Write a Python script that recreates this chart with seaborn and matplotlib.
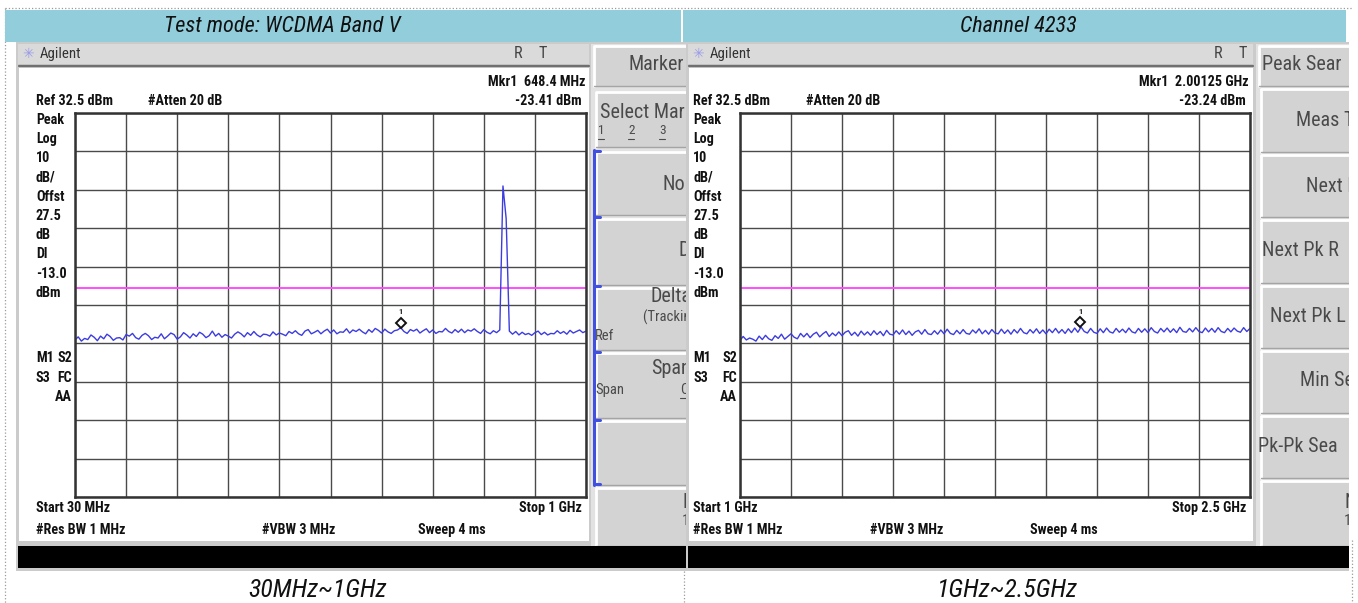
import numpy as np
import pandas as pd
import seaborn as sns
import matplotlib.pyplot as plt
import matplotlib.transforms as mtransforms
from matplotlib import font_manager
from matplotlib.patches import Rectangle

left_span_mhz = [30, 1000]
right_span_mhz = [1000, 2500]
ref_level_dbm = 32.5
db_per_div = 10
display_line_dbm = -13.0

# trace levels (dBm), evenly spaced sweep points across each span
left_levels_dbm = [
    -26.6, -25.8, -26.9, -26.2, -26.5, -25.3, -25.9, -26.8, -25.6, -26.3,
    -25.1, -25.7, -26.7, -26.1, -26.0, -26.6, -25.2, -25.6, -24.9, -26.0, -26.4,
    -25.4, -24.9, -25.5, -26.5, -25.9, -26.1, -25.0, -26.3, -25.6, -24.8,
    -25.2, -26.4, -25.8, -24.7, -25.3, -26.1, -25.0, -25.7, -24.6, -25.1,
    -26.0, -25.5, -24.3, -25.6, -24.9, -25.9, -25.2, -25.6, -26.1, -25.1,
    -24.5, -25.0, -25.8, -24.7, -25.4, -24.4, -25.3, -25.8, -25.1, -25.2,
    -25.6, -24.5, -25.3, -24.8, -25.1, -25.5, -24.4, -24.9, -24.2, -25.0,
    -25.4, -24.3, -23.9, -25.0, -24.6, -24.1, -25.0, -24.3, -23.8, -24.8,
    -24.0, -25.0, -24.5, -24.6, -23.7, -24.8, -24.0, -24.4, -23.8, -24.5,
    -25.0, -23.9, -24.6, -23.6, -24.1, -24.8, -23.8, -24.5, -24.9, -24.2,
    -24.0, -23.41, -24.4, -24.9, -23.9, -24.3, -23.8, -24.8, -24.2, -23.7,
    -24.7, -24.0, -24.9, -24.4, -24.5, -23.6, -24.4, -24.8, -23.9, -24.6,
    -23.8, -24.7, -24.0, -24.3, -23.7, -24.4, -24.9, -23.9, -24.6, -25.0,
    -24.2, -24.7, -24.0,
    13.5, 5.0,
    -24.3, -25.1, -24.4, -25.3, -24.6, -25.2, -24.9, -25.4, -24.7, -24.3,
    -25.2, -24.6, -25.3, -24.9, -25.0, -24.2, -24.9, -24.4, -25.1, -24.1,
    -24.8, -24.4, -24.0, -24.7, -24.3,
]
right_levels_dbm = [
    -26.7, -25.7, -26.6, -26.1, -26.4, -26.9, -25.6, -26.5, -25.4, -26.3, -26.7,
    -25.5, -26.2, -25.1, -26.4, -25.7, -25.0, -25.9, -26.3, -24.9, -25.8,
    -24.9, -26.0, -25.1, -24.6, -25.8, -25.0, -24.4, -25.7, -24.8, -25.5,
    -24.5, -25.5, -24.6, -24.2, -25.4, -24.6, -25.6, -24.3, -25.3, -24.5,
    -25.4, -24.2, -25.2, -24.4, -25.5, -24.1, -25.1, -25.3, -24.2, -25.1,
    -24.0, -25.2, -24.3, -25.4, -24.5, -24.1, -25.1, -23.9, -25.0, -25.2,
    -24.2, -25.1, -24.0, -25.0, -23.8, -24.9, -25.2, -24.1, -25.0, -23.9,
    -24.9, -25.1, -24.0, -24.8, -23.7, -25.0, -24.1, -25.1, -23.9, -24.8,
    -25.0, -23.8, -24.9, -24.0, -25.1, -23.9, -24.8, -23.6, -24.7, -25.0,
    -23.9, -24.8, -23.7, -24.9, -24.0, -25.0, -23.8, -24.7, -23.6, -24.8,
    -23.9, -24.9, -23.7, -24.7, -23.5, -24.6, -23.24, -24.4, -24.8, -23.6,
    -24.6, -24.9, -23.7, -24.7, -23.5, -24.5, -24.8, -23.6, -24.6, -23.8,
    -24.7, -23.5, -24.5, -24.8, -23.6, -24.6, -23.7, -24.7, -23.4, -24.4,
    -24.8, -23.6, -24.5, -23.5, -24.6, -23.7, -24.7, -23.3, -24.4, -24.6,
    -23.6, -24.5, -23.4, -24.4, -24.7, -23.5, -24.5, -23.6, -24.6, -23.4,
    -24.4, -24.7, -23.6, -24.5, -23.5, -24.3, -24.6, -23.4, -24.4, -23.6,
]

left_marker = [648.4, -23.41]
right_marker = [2001.25, -23.24]

header_titles = ["Test mode: WCDMA Band V", "Channel 4233"]
range_titles = ["30MHz~1GHz", "1GHz~2.5GHz"]
status_labels = ["Peak", "Log", "10", "dB/", "Offst", "27.5", "dB", "Dl", "-13.0", "dBm"]

sns.set_theme(style="white")
names = {f.name for f in font_manager.fontManager.ttflist}
narrow_choices = ["Liberation Sans Narrow", "Roboto Condensed", "Open Sans Condensed"]
NARROW = next((n for n in narrow_choices if n in names), None)
if NARROW:
    plt.rcParams["font.family"] = [NARROW, "DejaVu Sans"]
    DISP, SOFT, HEAD, FOOT = 10.2, 14.5, 16, 18.5
else:
    plt.rcParams["font.family"] = ["Liberation Sans", "DejaVu Sans"]
    DISP, SOFT, HEAD, FOOT = 9.3, 12.5, 14, 16

W, H = 1358, 603
fig = plt.figure(figsize=(W / 100, H / 100), dpi=100)
fig.patch.set_facecolor("white")
bg = fig.add_axes([0, 0, 1, 1])
bg.set_xlim(0, W)
bg.set_ylim(H, 0)
bg.axis("off")

TRACE = "#3c3ce0"
PINK = "#ff4dff"


def box(ax, x0, y0, x1, y1, fc, ec="none", lw=0, z=1):
    ax.add_patch(Rectangle((x0, y0), x1 - x0, y1 - y0, facecolor=fc,
                           edgecolor=ec, linewidth=lw, zorder=z))


def px_axes(x0, y0, x1, y1):
    return fig.add_axes([x0 / W, 1 - y1 / H, (x1 - x0) / W, (y1 - y0) / H])


def txt(ax, x, y, s, size=None, weight="bold", ha="left", color="#111111", **kw):
    ax.text(x, y, s, fontsize=size or DISP, fontweight=weight, ha=ha, va="center",
            color=color, zorder=5, **kw)


def button(ax, x0, y0, x1, y1):
    box(ax, x0, y0, x1, y1, "#d3d3d3", z=1)
    ax.plot([x0, x0, x1], [y1, y0, y0], color="white", lw=2, zorder=2)
    ax.plot([x0, x1, x1], [y1, y1, y0], color="#a4a4a4", lw=1, zorder=2)


def draw_screen(fx0, fx1, wx1, gx0, gx1, tx0, span, levels, marker, readout,
                atten_x, vbw_x, sweep_x, rt_x):
    # instrument frame, title bar, white display, black status bar
    box(bg, fx0, 42, fx1, 571, "#cbcbcb")
    box(bg, fx0 + 2, 44, wx1, 64, "#dadada")
    bg.plot([fx0 + 3, wx1], [66, 66], color="#707070", lw=1.6, zorder=2)
    box(bg, fx0 + 3, 68, wx1, 541, "white", z=2)
    box(bg, fx0 + 2, 546, fx1, 568, "black", z=2)

    bg.text(fx0 + 12, 54, "\u2733", fontsize=10, color="#9a9ae8", ha="center",
            va="center", family="DejaVu Sans", zorder=5)
    txt(bg, fx0 + 24, 54, "Agilent", size=DISP + 0.5, weight="normal", color="#333333")
    txt(bg, rt_x, 54, "R", size=DISP + 1.5, weight="normal", color="#444444", ha="center")
    txt(bg, rt_x + 25, 54, "T", size=DISP + 1.5, weight="normal", color="#444444", ha="center")

    txt(bg, gx1 - 1, 82, readout[0], ha="right")
    txt(bg, tx0, 101, "Ref 32.5 dBm")
    txt(bg, atten_x, 101, "#Atten 20 dB")
    txt(bg, gx1 - 4, 101, readout[1], ha="right")
    for i, s in enumerate(status_labels):
        txt(bg, tx0, 120 + i * 19.2, s)
    txt(bg, tx0, 358, "M1")
    txt(bg, gx0 - 3, 358, "S2", ha="right")
    txt(bg, tx0, 378, "S3")
    txt(bg, gx0 - 3, 378, "FC", ha="right")
    txt(bg, gx0 - 3, 397, "AA", ha="right")
    txt(bg, tx0, 508, readout[2])
    txt(bg, gx1 - 4, 508, readout[3], ha="right")
    txt(bg, tx0, 530, "#Res BW 1 MHz")
    txt(bg, vbw_x, 530, "#VBW 3 MHz")
    txt(bg, sweep_x, 530, "Sweep 4 ms")

    # the graticule and the trace
    ax = px_axes(gx0, 113, gx1, 497)
    ax.set_zorder(3)
    freqs = np.linspace(span[0], span[1], len(levels))
    df = pd.DataFrame({"freq": freqs, "level": levels})
    sns.lineplot(data=df, x="freq", y="level", ax=ax, color=TRACE, lw=1.0,
                 sort=False, estimator=None)
    ax.axhline(display_line_dbm, color=PINK, lw=1.4, zorder=1)
    ax.set_xlim(span[0], span[1])
    ax.set_ylim(ref_level_dbm - 10 * db_per_div, ref_level_dbm)
    ax.set_xticks(np.linspace(span[0], span[1], 11))
    ax.set_yticks(np.linspace(ref_level_dbm - 10 * db_per_div, ref_level_dbm, 11))
    ax.grid(True, color="#4a4a4a", lw=1.0)
    ax.tick_params(length=0, labelbottom=False, labelleft=False)
    ax.set_xlabel("")
    ax.set_ylabel("")
    ax.set_facecolor("white")
    for sp in ax.spines.values():
        sp.set_visible(True)
        sp.set_color("#333333")
        sp.set_linewidth(1.8)
    up = mtransforms.offset_copy(ax.transData, fig=fig, x=0, y=5, units="dots")
    ax.plot(marker[0], marker[1], marker="D", ms=5.5, mfc="white", mec="#111111",
            mew=1.4, transform=up, zorder=4)
    ax.annotate("1", (marker[0], marker[1]), xytext=(0, 16), textcoords="offset pixels",
                ha="center", va="center", fontsize=6, fontweight="bold", color="#222222")


def softkeys(sx0, sx1, title, title_x, keys, extra):
    sk = px_axes(sx0, 44, sx1, 546)
    sk.set_xlim(sx0, sx1)
    sk.set_ylim(546, 44)
    sk.axis("off")
    sk.set_zorder(4)
    box(sk, sx0, 44, sx1, 546, "#e2e2e2", z=0)
    button(sk, sx0 + 3, 46, sx1 + 2, 86)
    sk.text(title_x, 64, title, fontsize=SOFT, color="#4a4a4a", va="center",
            clip_on=True, zorder=5)
    for (y0, y1, label, lx, ly) in keys:
        button(sk, sx0 + 5, y0, sx1 + 2, y1)
        if label:
            sk.text(lx, ly, label, fontsize=SOFT, color="#4a4a4a", va="center",
                    clip_on=True, zorder=5)
    for (x, y, s, size, ul) in extra:
        sk.text(x, y, s, fontsize=size, color="#4a4a4a", va="center",
                clip_on=True, zorder=5)
        if ul:
            sk.plot([x, x + 6], [y + 8, y + 8], color="#4a4a4a", lw=0.8, zorder=5)
    return sk


# Word table borders (dotted)
dots = dict(color="#9a9a9a", lw=0.9, ls=":", zorder=0)
bg.plot([5, 5], [8, 603], **dots)
bg.plot([5, 1352], [8, 8], **dots)
bg.plot([684, 684], [571, 603], **dots)
bg.plot([1352, 1352], [540, 603], **dots)

# blue header row and range captions
box(bg, 5, 10, 681, 42, "#92cddc")
box(bg, 683, 10, 1346, 42, "#92cddc")
for x, y, s, size in [(282, 26, header_titles[0], HEAD), (1018, 26, header_titles[1], HEAD),
                      (318, 590, range_titles[0], FOOT), (1007, 590, range_titles[1], FOOT)]:
    bg.text(x, y, s, fontsize=size, style="italic", ha="center", va="center",
            color="#111111")

draw_screen(16, 686, 589, 75, 586, 36, left_span_mhz, left_levels_dbm, left_marker,
            ["Mkr1  648.4 MHz", "-23.41 dBm", "Start 30 MHz", "Stop 1 GHz"],
            148, 262, 418, 518)
draw_screen(686, 1349, 1253, 740, 1250, 693, right_span_mhz, right_levels_dbm,
            right_marker,
            ["Mkr1  2.00125 GHz", "-23.24 dBm", "Start 1 GHz", "Stop 2.5 GHz"],
            806, 870, 1030, 1218)

sk_left = softkeys(
    591, 686, "Marker", 628,
    [(92, 147, "Select Mar", 600, 112), (152, 215, "No", 663, 185),
     (219, 285, "D", 679, 251), (288, 350, "Delta", 651, 297),
     (353, 418, "Span", 651, 369), (421, 485, "", 0, 0),
     (488, 546, "N", 682, 503)],
    [(598, 131, "1", 9.5, True), (628, 131, "2", 9.5, True), (659, 131, "3", 9.5, True),
     (643, 317, "(Tracking R", 10.5, False), (595, 336, "Ref", 10.5, False),
     (595, 390, "Span", 10.5, False), (680, 390, "C", 10.5, True),
     (682, 521, "1", 11, False)])
sk_left.plot([594, 594], [150, 485], color="#4050e0", lw=2.2, zorder=6)
for yb in [151, 217, 286, 352, 420, 484]:
    sk_left.plot([594, 600], [yb, yb], color="#4050e0", lw=2.2, zorder=6)

softkeys(
    1256, 1349, "Peak Sear", 1262,
    [(89, 152, "Meas To", 1296, 120), (155, 217, "Next P", 1306, 186),
     (220, 283, "Next Pk R", 1262, 251), (286, 348, "Next Pk L", 1270, 316),
     (351, 413, "Min Se", 1300, 381), (416, 478, "Pk-Pk Sea", 1258, 446),
     (481, 546, "N", 1344, 503)],
    [(1344, 521, "1", 11, False)])

fig.savefig("out.png", dpi=100, facecolor="white")
